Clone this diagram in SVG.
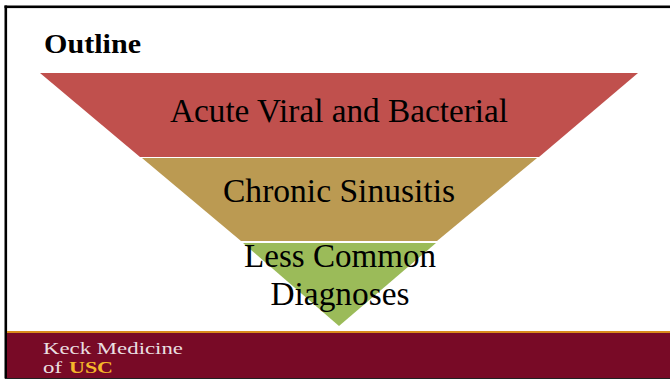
<svg xmlns="http://www.w3.org/2000/svg" width="670" height="380" viewBox="0 0 670 380">
<style>
text{font-family:"Liberation Serif","DejaVu Serif",serif;fill:#000}
.t{font-size:33px;text-anchor:middle}
.f{font-size:17px;fill:#eadfe0}
</style>
<rect width="670" height="380" fill="#fff"/>
<g id="frame">
<rect x="4.5" y="5.5" width="665.5" height="2.6" fill="#000"/>
<rect x="4.5" y="5.5" width="2.6" height="373" fill="#000"/>
</g>
<g id="footer">
<rect x="7" y="331" width="663" height="47" fill="#780a26"/>
<rect x="7" y="331" width="663" height="2" fill="#d98c1c"/>
<rect x="5" y="378" width="665" height="1" fill="#222"/>
<text class="f" x="43" y="354" textLength="140" lengthAdjust="spacingAndGlyphs">Keck Medicine</text>
<text class="f" x="43" y="373" textLength="19" lengthAdjust="spacingAndGlyphs">of</text>
<text x="69" y="373" font-size="17" font-weight="bold" style="fill:#f5b82a" textLength="44" lengthAdjust="spacingAndGlyphs">USC</text>
</g>
<g id="title"><text x="44" y="53" font-size="27" font-weight="bold" textLength="97" lengthAdjust="spacingAndGlyphs">Outline</text></g>
<g id="level1">
<polygon points="40,73 638,73 539,157 140,157" fill="#c0504d"/>
<text class="t" x="339" y="122" textLength="338" lengthAdjust="spacingAndGlyphs">Acute Viral and Bacterial</text>
</g>
<g id="level2">
<polygon points="142,158 537,158 437,241 241,241" fill="#bb9a52"/>
<text class="t" x="339" y="202" textLength="232" lengthAdjust="spacingAndGlyphs">Chronic Sinusitis</text>
</g>
<g id="level3">
<polygon points="243,243 436,243 339,326" fill="#9bbb59"/>
<text class="t" x="340" y="267" textLength="192" lengthAdjust="spacingAndGlyphs">Less Common</text>
<text class="t" x="340" y="305" textLength="139" lengthAdjust="spacingAndGlyphs">Diagnoses</text>
</g>
</svg>
